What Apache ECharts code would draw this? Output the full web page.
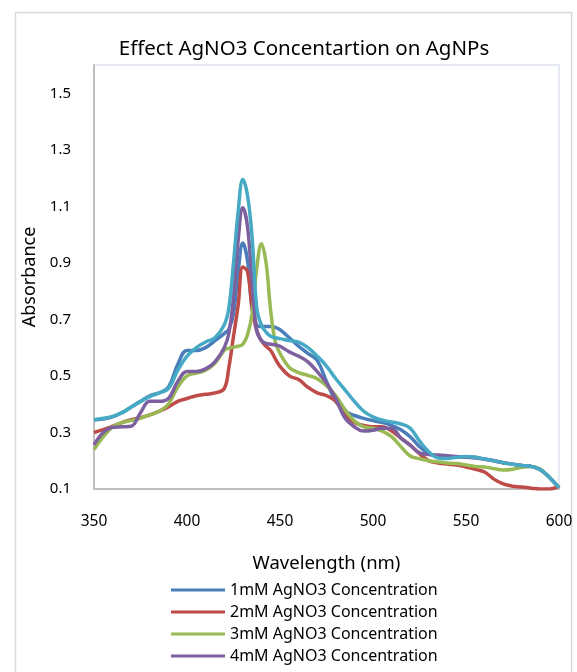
<!DOCTYPE html>
<html>
<head>
	<title>AgNO3 Concentration</title>
	<meta charset="utf-8">
	<style>
		html, body { margin: 0; padding: 0; background: #fff; }
		#main { width: 577px; height: 672px; }
	</style>
</head>
<body>
<div id="main"></div>

<script type="text/javascript" src="https://cdn.jsdelivr.net/npm/echarts@6/dist/echarts.min.js"></script>
<script type="text/javascript">
	// wavelength points (nm), denser near the peak
	var wavelength = [350,355,360,365,370,375,380,385,390,395,400,405,410,415,420,422.5,425,427.5,430,432.5,435,437.5,440,442.5,445,447.5,450,455,460,465,470,475,480,485,490,495,500,505,510,515,520,525,530,535,540,545,550,555,560,565,570,575,580,585,590,595,600];

	var mM1 = [0.345,0.348,0.355,0.37,0.39,0.41,0.43,0.44,0.46,0.54,0.59,0.59,0.60,0.625,0.65,0.665,0.72,0.87,0.97,0.91,0.74,0.68,0.675,0.675,0.675,0.672,0.664,0.635,0.605,0.58,0.555,0.48,0.41,0.375,0.36,0.35,0.342,0.335,0.325,0.31,0.285,0.25,0.225,0.215,0.212,0.213,0.214,0.212,0.206,0.2,0.193,0.188,0.183,0.18,0.168,0.14,0.105];
	var mM2 = [0.30,0.31,0.322,0.335,0.345,0.352,0.362,0.375,0.39,0.41,0.42,0.43,0.435,0.44,0.455,0.53,0.64,0.75,0.885,0.87,0.74,0.66,0.625,0.605,0.59,0.56,0.534,0.50,0.487,0.46,0.44,0.43,0.41,0.36,0.335,0.325,0.32,0.32,0.305,0.28,0.255,0.225,0.2,0.192,0.188,0.185,0.178,0.17,0.16,0.135,0.118,0.11,0.107,0.103,0.1,0.1,0.11];
	var mM3 = [0.24,0.285,0.32,0.335,0.342,0.35,0.362,0.375,0.40,0.46,0.50,0.51,0.52,0.545,0.59,0.598,0.602,0.605,0.612,0.645,0.72,0.88,0.968,0.90,0.73,0.62,0.58,0.53,0.512,0.502,0.49,0.465,0.43,0.38,0.34,0.32,0.315,0.305,0.285,0.25,0.217,0.207,0.2,0.196,0.192,0.19,0.185,0.18,0.178,0.172,0.167,0.17,0.177,0.18,0.17,0.14,0.105];
	var mM4 = [0.256,0.30,0.318,0.32,0.322,0.37,0.41,0.41,0.42,0.48,0.516,0.516,0.525,0.55,0.60,0.65,0.78,0.98,1.095,1.03,0.83,0.66,0.625,0.615,0.612,0.61,0.605,0.585,0.57,0.55,0.515,0.475,0.42,0.35,0.32,0.305,0.308,0.315,0.315,0.28,0.255,0.228,0.222,0.22,0.218,0.215,0.212,0.21,0.205,0.2,0.193,0.188,0.183,0.18,0.168,0.14,0.105];
	var mM5 = [0.345,0.35,0.357,0.37,0.39,0.41,0.427,0.44,0.455,0.52,0.57,0.60,0.62,0.635,0.68,0.74,0.90,1.08,1.195,1.14,0.99,0.74,0.68,0.655,0.64,0.635,0.632,0.625,0.62,0.60,0.57,0.535,0.49,0.45,0.41,0.375,0.355,0.343,0.337,0.33,0.315,0.27,0.232,0.21,0.208,0.212,0.215,0.212,0.206,0.2,0.193,0.188,0.183,0.18,0.168,0.14,0.105];

	var seriesNames = ['1mM AgNO3 Concentration','2mM AgNO3 Concentration','3mM AgNO3 Concentration','4mM AgNO3 Concentration','5mM AgNO3 Concentration'];
	var seriesColors = ['#4a7ebb','#be4b48','#98b954','#7d60a0','#46aac5'];
	var seriesValues = [mM1, mM2, mM3, mM4, mM5];

	function pairs(values){
		var out = [];
		for (var i = 0; i < wavelength.length; i++) {
			out.push([wavelength[i], values[i]]);
		}
		return out;
	}

	var myChart = echarts.init(document.getElementById('main'));

	var series = [];
	for (var s = 0; s < seriesValues.length; s++) {
		series.push({
			name: seriesNames[s],
			type: 'line',
			smooth: 0.4,
			showSymbol: false,
			symbol: 'none',
			data: pairs(seriesValues[s]),
			lineStyle: { color: seriesColors[s], width: 3.5 },
			itemStyle: { color: seriesColors[s] }
		});
	}

	var option = {
		animation: false,
		backgroundColor: '#fff',
		textStyle: { fontFamily: 'Noto Sans' },
		graphic: [{
			type: 'rect',
			shape: { x: 15.5, y: 12.5, width: 556, height: 700 },
			style: { fill: 'none', stroke: '#d9d9d9', lineWidth: 1.5 },
			silent: true
		}],
		title: {
			text: 'Effect AgNO3 Concentartion on AgNPs',
			left: 299,
			textAlign: 'center',
			top: 34,
			textStyle: { fontSize: 20.5, fontWeight: 'normal', color: '#000', fontFamily: 'Noto Sans' }
		},
		legend: {
			data: seriesNames.slice(0, 4),
			orient: 'vertical',
			left: 171,
			top: 582,
			height: 120,
			padding: 0,
			itemWidth: 54,
			itemHeight: 3,
			itemGap: 6,
			icon: 'rect',
			textStyle: { fontSize: 16, color: '#000' }
		},
		grid: {
			left: 94,
			right: 18,
			top: 65,
			bottom: 183,
			show: true,
			borderColor: '#dde4ee',
			borderWidth: 1.5
		},
		xAxis: {
			type: 'value',
			min: 350,
			max: 600,
			interval: 50,
			name: 'Wavelength (nm)',
			nameLocation: 'middle',
			nameGap: 65,
			nameTextStyle: { fontSize: 18.5, color: '#000' },
			axisLine: { show: true, lineStyle: { color: '#bfbfbf', width: 2 } },
			axisTick: { show: false },
			splitLine: { show: false },
			axisLabel: { fontSize: 15.5, color: '#000', margin: 25 }
		},
		yAxis: {
			type: 'value',
			min: 0.1,
			max: 1.6,
			interval: 0.2,
			name: 'Absorbance',
			nameLocation: 'middle',
			nameRotate: 90,
			nameGap: 50,
			nameTextStyle: { fontSize: 18, color: '#000' },
			axisLine: { show: true, lineStyle: { color: '#bfbfbf', width: 2 } },
			axisTick: { show: false },
			splitLine: { show: false },
			axisLabel: {
				fontSize: 15, color: '#000', margin: 23, showMaxLabel: false,
				formatter: function(v){ return v.toFixed(1); }
			}
		},
		series: series
	};
	myChart.setOption(option);
</script>
</body>
</html>
